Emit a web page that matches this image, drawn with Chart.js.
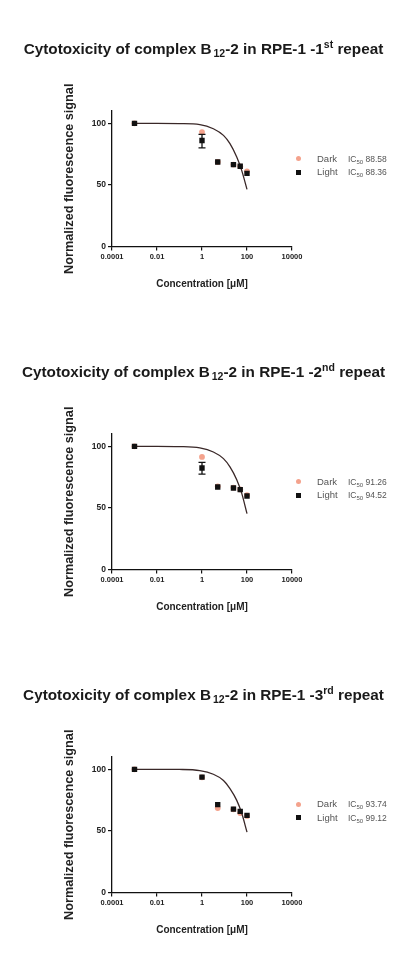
<!DOCTYPE html>
<html><head><meta charset="utf-8">
<script src="https://cdn.jsdelivr.net/npm/chart.js@4.4.1/dist/chart.umd.min.js"></script>
<style>
html,body{margin:0;padding:0;background:#fff;width:414px;height:968px;overflow:hidden;font-family:"Liberation Sans",Arial,sans-serif;}
.block{position:absolute;left:0;width:414px;height:323px;}
canvas{position:absolute;left:0;top:0;}
.title{position:absolute;left:0;width:407px;text-align:center;top:40px;font-weight:bold;font-size:15.3px;line-height:18px;color:#1a1a1a;white-space:nowrap;z-index:2;}
.title sub{font-size:10.5px;vertical-align:-3px;line-height:0;margin-left:2px;}
.title sup{font-size:10.5px;vertical-align:6px;line-height:0;}
.lrow{position:absolute;left:0;height:12px;line-height:12px;color:#555;white-space:nowrap;z-index:2;}
.mk{position:absolute;}
.lname{position:absolute;left:317px;font-size:9.5px;}
.lic{position:absolute;left:348px;font-size:8.5px;}
.lic sub{font-size:6px;vertical-align:-2px;line-height:0;}
</style>
</head><body>
<div id="root"></div>
<script>
// ---- data ----
const conc = [0.001, 1, 5, 25, 50, 100];
const dark1  = [100, 92.9, 68.6, 66.5, 65.1, 61.0];
const light1 = [100, 86.1, 68.6, 66.5, 65.1, 59.4];
const dark2  = [100, 91.4, 67.5, 66.5, 65.0, 60.3];
const light2 = [100, 82.4, 67.0, 66.2, 64.8, 59.7];
const dark3  = [100, 93.5, 68.5, 67.5, 64.5, 62.2];
const light3 = [100, 93.7, 71.3, 67.7, 65.9, 62.6];
// error bar of Light at 1 µM (low, high)
const errConc = 1;
const err1 = [80, 91];
const err2 = [77.5, 87];
const err3 = null;
// fitted curves
const fitX = [0.001, 0.01, 0.1, 0.8, 3.2, 9, 17.5, 35, 58, 100];
const fit1 = [100, 100, 99.8, 99.0, 95.6, 90.2, 83.5, 72.6, 61.8, 46.4];
const fit2 = [100, 100, 99.8, 98.7, 95.4, 90.0, 83.3, 72.9, 62.0, 45.3];
const fit3 = [100, 100, 99.9, 99.0, 96.0, 91.0, 84.3, 74.8, 64.5, 49.0];
// ticks
const xTicks = [0.0001, 0.01, 1, 100, 10000];
const xTickLabels = ["0.0001", "0.01", "1", "100", "10000"];
const yTicks = [0, 50, 100];
// texts
const repeatNum = ["1", "2", "3"];
const repeatSuffix = ["st", "nd", "rd"];
const icDark = ["88.58", "91.26", "93.74"];
const icLight = ["88.36", "94.52", "99.12"];
const seriesNames = ["Dark", "Light"];

const FAM = '"Liberation Sans", Arial, sans-serif';
const blocksTop = [0, 323, 645.5];
const sets = [
  {dark: dark1, light: light1, err: err1, fit: fit1},
  {dark: dark2, light: light2, err: err2, fit: fit2},
  {dark: dark3, light: light3, err: err3, fit: fit3}
];
const root = document.getElementById('root');

sets.forEach((s, k) => {
  const b = document.createElement('div');
  b.className = 'block';
  b.style.top = blocksTop[k] + 'px';
  root.appendChild(b);

  const t = document.createElement('div');
  t.className = 'title';
  t.innerHTML = 'Cytotoxicity of complex B<sub>12</sub>-2 in RPE-1 -' + repeatNum[k] + '<sup>' + repeatSuffix[k] + '</sup> repeat';
  b.appendChild(t);

  const cv = document.createElement('canvas');
  cv.width = 414; cv.height = 300;
  b.appendChild(cv);

  // legend
  [0, 1].forEach(j => {
    const r = document.createElement('div');
    r.className = 'lrow';
    r.style.top = (j === 0 ? 152.5 : 166) + 'px';
    r.style.width = '414px';
    const m = document.createElement('div');
    m.className = 'mk';
    if (j === 0) {
      m.style.cssText = 'left:295.5px;top:3.5px;width:5px;height:5px;border-radius:50%;background:#f4a28c;';
    } else {
      m.style.cssText = 'left:295.5px;top:3.5px;width:5px;height:5px;background:#111;';
    }
    r.appendChild(m);
    const n = document.createElement('span');
    n.className = 'lname';
    n.textContent = seriesNames[j];
    r.appendChild(n);
    const ic = document.createElement('span');
    ic.className = 'lic';
    ic.innerHTML = 'IC<sub>50</sub> ' + (j === 0 ? icDark[k] : icLight[k]);
    r.appendChild(ic);
    b.appendChild(r);
  });

  const datasets = [
    {type: 'scatter', label: 'Light', data: conc.map((c, i) => ({x: c, y: s.light[i]})),
     pointStyle: 'rect', pointRadius: 3.8, pointHoverRadius: 3.8, backgroundColor: '#111', borderColor: '#111', borderWidth: 0, order: 0},
    {type: 'line', label: 'Light SD', data: s.err ? [{x: errConc, y: s.err[0]}, {x: errConc, y: s.err[1]}] : [],
     borderColor: '#111', borderWidth: 1.3, pointStyle: 'line', pointRadius: 3.5, pointBorderWidth: 1.3,
     pointBorderColor: '#111', showLine: true, order: 1},
    {type: 'line', label: 'Fit', data: fitX.map((c, i) => ({x: c, y: s.fit[i]})),
     borderColor: '#3a2828', borderWidth: 1.3, pointRadius: 0, cubicInterpolationMode: 'monotone', showLine: true, fill: false, order: 2},
    {type: 'scatter', label: 'Dark', data: conc.map((c, i) => ({x: c, y: s.dark[i]})),
     pointStyle: 'circle', pointRadius: 2.9, pointHoverRadius: 2.9, backgroundColor: '#f4a28c', borderColor: '#f4a28c', borderWidth: 0, order: 3}
  ];

  new Chart(cv, {
    type: 'scatter',
    data: {datasets},
    options: {
      responsive: false,
      animation: false,
      layout: {padding: {left: 57.4, right: 122, top: 111, bottom: 5.5}},
      plugins: {legend: {display: false}, tooltip: {enabled: false}},
      scales: {
        x: {
          type: 'logarithmic', position: 'bottom', min: 0.0001, max: 10000,
          afterBuildTicks: sc => { sc.ticks = xTicks.map(v => ({value: v})); },
          afterFit: sc => { sc.height = 48; },
          ticks: {
            callback: v => { const i = xTicks.indexOf(v); return i >= 0 ? xTickLabels[i] : ''; },
            font: {size: 7.5, weight: 'bold', family: FAM}, color: '#222', padding: 2, maxRotation: 0, autoSkip: false
          },
          grid: {display: true, drawOnChartArea: false, drawTicks: true, tickLength: 4, color: '#111', lineWidth: 1.2},
          border: {display: true, color: '#111', width: 1.3},
          title: {display: true, text: 'Concentration [μM]', font: {size: 10, weight: 'bold', family: FAM}, color: '#222', padding: {top: 4, bottom: 4}}
        },
        y: {
          type: 'linear', min: 0, max: 110,
          afterBuildTicks: sc => { sc.ticks = yTicks.map(v => ({value: v})); },
          afterFit: sc => { sc.width = 54.6; },
          ticks: {font: {size: 8.5, weight: 'bold', family: FAM}, color: '#222', padding: 2},
          grid: {display: true, drawOnChartArea: false, drawTicks: true, tickLength: 4, color: '#111', lineWidth: 1.2},
          border: {display: true, color: '#111', width: 1.3},
          title: {display: true, text: 'Normalized fluorescence signal', font: {size: 12.7, weight: 'bold', family: FAM}, color: '#222', padding: {top: 4, bottom: 4}}
        }
      }
    }
  });
});
</script>
</body></html>
